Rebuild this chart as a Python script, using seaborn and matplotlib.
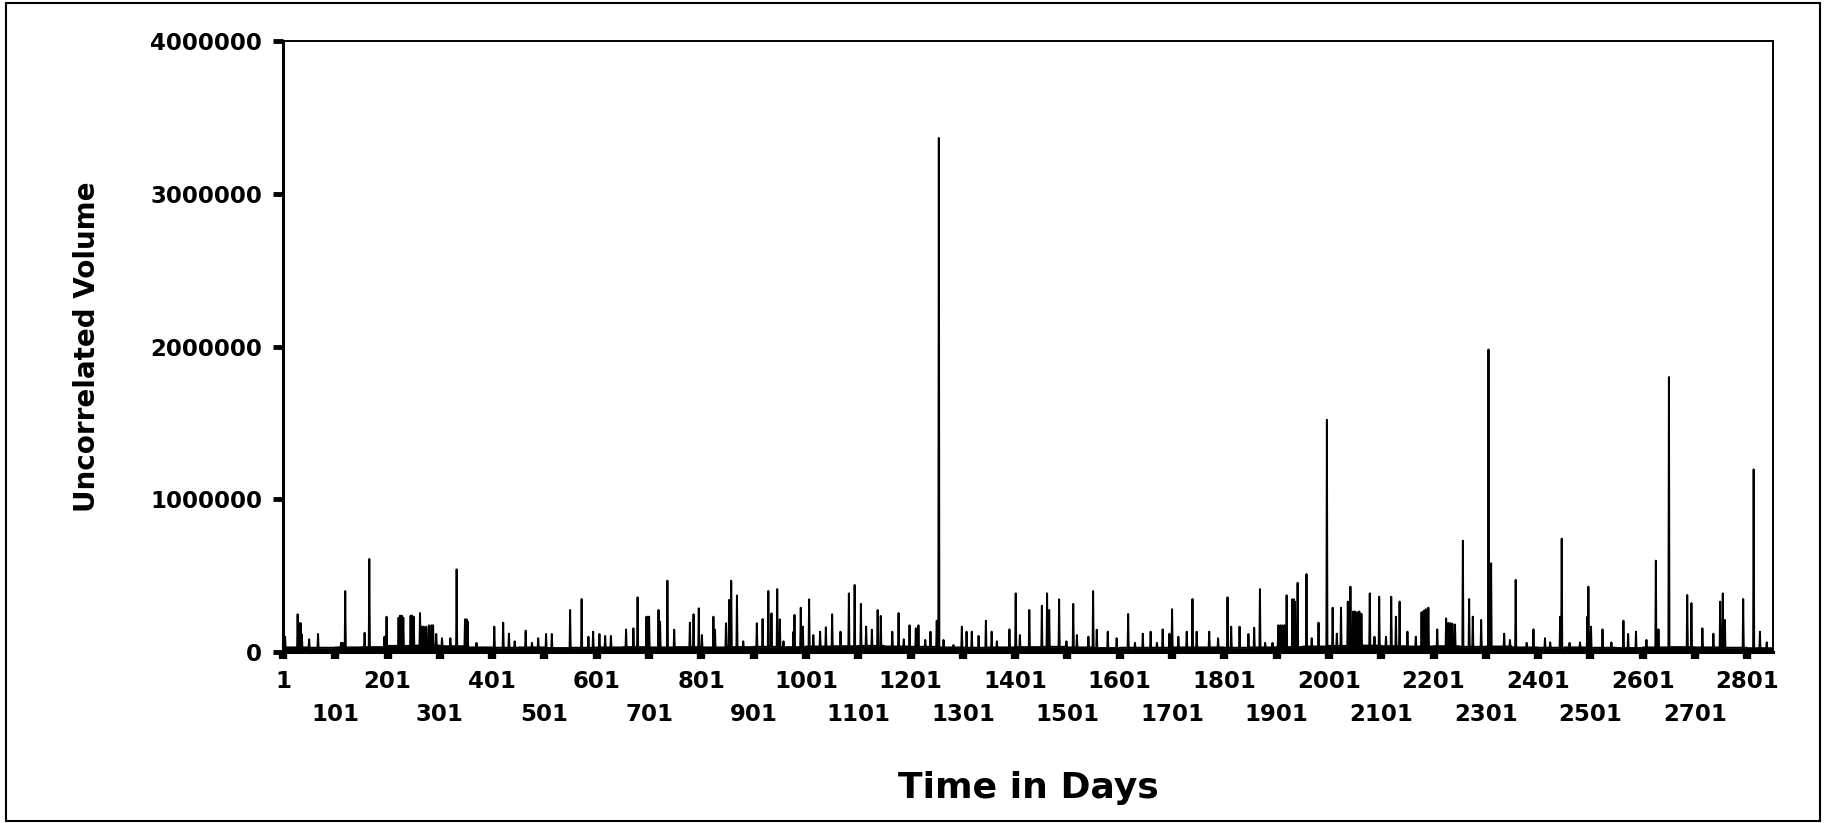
import numpy as np
import pandas as pd
import matplotlib
matplotlib.use("Agg")
import matplotlib.pyplot as plt
import seaborn as sns
from matplotlib.patches import Rectangle

# ---------------- data ----------------
n_days = 2850
block_size = 50
# typical low-level volume per 50-day block (the dense band near zero)
floor_levels = [30000, 28000, 30000, 32000, 40000, 42000, 38000, 30000, 28000, 30000,
                26000, 28000, 30000, 32000, 30000, 32000, 30000, 32000, 34000, 32000,
                36000, 38000, 40000, 36000, 34000, 30000, 28000, 30000, 32000, 34000,
                30000, 26000, 28000, 28000, 30000, 30000, 28000, 30000, 32000, 36000,
                40000, 42000, 38000, 36000, 38000, 34000, 36000, 30000, 28000, 30000,
                28000, 26000, 30000, 32000, 30000, 28000, 25000]

# visible peaks: (day, volume in thousands)
spike_points = [
    (5, 100), (29, 247), (31, 188), (33, 188), (35, 188), (37, 115), (51, 83), (68, 118),
    (112, 60), (115, 60), (120, 399), (157, 126), (166, 609), (195, 100), (197, 100),
    (199, 231), (222, 225), (225, 238), (228, 238), (231, 225), (245, 238), (248, 238),
    (251, 230), (263, 255), (266, 166), (270, 166), (275, 166), (280, 175), (285, 175),
    (288, 175), (294, 118), (305, 90), (321, 90), (333, 541), (349, 214), (352, 214),
    (354, 200), (371, 60), (405, 166), (422, 192), (433, 120), (444, 70), (465, 140),
    (477, 60), (489, 90), (504, 118), (515, 118), (550, 275), (572, 347), (585, 100),
    (594, 133), (606, 118), (617, 105), (628, 105), (657, 148), (671, 155), (679, 358),
    (696, 231), (699, 231), (701, 231), (719, 275), (722, 199), (736, 467), (749, 146),
    (779, 192), (786, 247), (796, 286), (802, 111), (824, 231), (827, 146), (848, 188),
    (854, 341), (858, 467), (869, 370), (881, 70), (907, 188), (918, 216), (929, 399),
    (935, 253), (946, 412), (951, 214), (958, 70), (977, 133), (979, 243), (991, 290),
    (995, 166), (1007, 345), (1015, 111), (1028, 133), (1039, 162), (1051, 247),
    (1067, 133), (1083, 384), (1094, 439), (1106, 315), (1116, 166), (1127, 146),
    (1138, 275), (1144, 236), (1166, 133), (1178, 255), (1188, 83), (1199, 175),
    (1211, 155), (1216, 175), (1229, 79), (1239, 133), (1251, 205), (1255, 3365),
    (1264, 79), (1283, 46), (1299, 166), (1308, 133), (1318, 133), (1331, 105),
    (1345, 205), (1356, 133), (1366, 70), (1390, 148), (1402, 384), (1410, 111),
    (1428, 275), (1452, 303), (1462, 384), (1466, 275), (1485, 345), (1499, 70),
    (1512, 315), (1519, 111), (1541, 100), (1550, 399), (1557, 146), (1578, 133),
    (1595, 90), (1617, 249), (1630, 60), (1645, 120), (1660, 133), (1672, 60),
    (1683, 148), (1696, 120), (1701, 280), (1713, 100), (1729, 133), (1740, 347),
    (1748, 133), (1772, 133), (1789, 90), (1807, 358), (1814, 166), (1830, 166),
    (1847, 118), (1858, 159), (1869, 412), (1879, 60), (1893, 60), (1904, 175),
    (1908, 175), (1912, 175), (1916, 175), (1920, 371), (1931, 345), (1934, 345),
    (1936, 330), (1941, 453), (1958, 510), (1968, 90), (1981, 192), (1997, 1520),
    (2008, 290), (2016, 120), (2024, 290), (2037, 330), (2042, 428), (2047, 265),
    (2051, 265), (2055, 260), (2059, 265), (2063, 250), (2079, 384), (2088, 100),
    (2097, 362), (2110, 100), (2120, 362), (2129, 231), (2136, 330), (2151, 133),
    (2167, 100), (2178, 260), (2182, 270), (2186, 280), (2191, 290), (2208, 148),
    (2225, 220), (2229, 190), (2233, 190), (2237, 185), (2242, 180), (2257, 729),
    (2269, 347), (2276, 231), (2292, 210), (2306, 1980), (2311, 581), (2336, 120),
    (2347, 79), (2358, 472), (2379, 60), (2392, 148), (2414, 90), (2424, 63),
    (2443, 231), (2446, 742), (2461, 60), (2481, 63), (2495, 231), (2497, 428),
    (2502, 166), (2524, 148), (2541, 63), (2564, 205), (2573, 118), (2588, 133),
    (2608, 79), (2626, 598), (2631, 148), (2651, 1800), (2686, 373), (2694, 320),
    (2715, 155), (2736, 120), (2749, 330), (2754, 384), (2758, 210), (2793, 347),
    (2813, 1195), (2825, 133), (2838, 63),
]

y_ticks = [0, 1000000, 2000000, 3000000, 4000000]
x_upper_ticks = [1, 201, 401, 601, 801, 1001, 1201, 1401, 1601, 1801, 2001, 2201, 2401, 2601, 2801]
x_lower_ticks = [101, 301, 501, 701, 901, 1101, 1301, 1501, 1701, 1901, 2101, 2301, 2501, 2701]

y_title = "Uncorrelated Volume"
x_title = "Time in Days"

# ---------------- build series ----------------
days = np.arange(1, n_days + 1)
volume = np.repeat(np.array(floor_levels, dtype=float), block_size)[:n_days]
for d, v in spike_points:
    volume[d - 1] = v * 1000.0
df = pd.DataFrame({"Day": days, "Volume": volume})

# ---------------- plot ----------------
sns.set_style("white")
plt.rcParams["font.family"] = ["DejaVu Sans"]
for key in ["text.color", "axes.labelcolor", "xtick.color", "ytick.color"]:
    plt.rcParams[key] = "black"

fig = plt.figure(figsize=(18.26, 8.23), dpi=100)
ax = fig.add_axes([283 / 1826, 1 - 652 / 823, (1773 - 283) / 1826, (652 - 41) / 823])

ax.fill_between(df["Day"], 0, df["Volume"], color="black", lw=0)
sns.lineplot(data=df, x="Day", y="Volume", ax=ax, color="black", linewidth=1.4,
             errorbar=None, estimator=None)

ax.set_xlim(1, n_days)
ax.set_ylim(0, 4000000)

tick_font = dict(family="DejaVu Sans", weight="bold", size=16.5, color="black")
ax.set_yticks(y_ticks)
ax.set_yticklabels([str(t) for t in y_ticks], fontdict=tick_font)

ax.set_xticks(x_upper_ticks)
ax.set_xticklabels([str(t) for t in x_upper_ticks], fontdict=tick_font)
ax.set_xticks(x_lower_ticks, minor=True)
ax.set_xticklabels([str(t) for t in x_lower_ticks], minor=True, fontdict=tick_font)

ax.tick_params(axis="y", which="major", direction="out", length=7, width=3.5, pad=8,
               color="black", left=True)
ax.tick_params(axis="x", which="major", direction="out", length=5, width=6, pad=8,
               color="black", bottom=True)
ax.tick_params(axis="x", which="minor", direction="out", length=5, width=6, pad=32,
               color="black", bottom=True)

for side in ["left", "bottom"]:
    ax.spines[side].set_linewidth(2.2)
for side in ["top", "right"]:
    ax.spines[side].set_linewidth(1.4)
for s in ax.spines.values():
    s.set_color("black")

ax.set_xlabel(x_title, fontsize=26, fontweight="bold", color="black")
ax.set_ylabel(y_title, fontsize=20, fontweight="bold", color="black")
ax.xaxis.set_label_coords(0.5, -(788 - 652) / (652 - 41))
ax.yaxis.set_label_coords(-(283 - 87) / (1773 - 283), 1 - (347 - 41) / (652 - 41))
ax.xaxis.label.set_va("center")
ax.yaxis.label.set_va("center")

fig.patches.append(Rectangle((6 / 1826, 2 / 823), (1820 - 6) / 1826, (820 - 2) / 823,
                             transform=fig.transFigure, fill=False, lw=1.5,
                             edgecolor="black"))

fig.savefig("out.png", dpi=100)
